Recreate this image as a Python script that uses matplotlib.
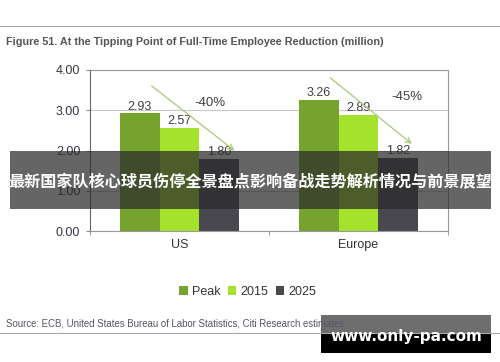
import numpy as np
import matplotlib
matplotlib.use("Agg")
from matplotlib import pyplot as plt
from matplotlib.patches import Rectangle

plt.rcParams['font.family'] = ['Liberation Sans', 'DejaVu Sans']

# data
regions = ['US', 'Europe']
series = ['Peak', '2015', '2025']
peak = [2.93, 3.26]
y2015 = [2.57, 2.89]
y2025 = [1.80, 1.82]
drops = ['-40%', '-45%']
colours = ['#76a22e', '#a4e22c', '#48484e']

fig = plt.figure(figsize=(5, 3.62), dpi=100)
ax = fig.add_axes([0.18, 1 - 231 / 362, 0.716, (231 - 70) / 362])

x = np.arange(len(regions))
w = 0.223
for i, (vals, c, name) in enumerate(zip([peak, y2015, y2025], colours, series)):
    bars = ax.bar(x + (i - 1) * w, vals, w, color=c, label=name, zorder=2)
    for b, v in zip(bars, vals):
        ax.text(b.get_x() + b.get_width() / 2, v + 0.01, f'{v:.2f}',
                ha='center', va='bottom', fontsize=9, color='#404040')

# reduction arrows and % labels
arrows = [((-0.168, 3.65), (0.32, 1.95)), ((0.83, 3.85), (1.31, 2.12))]
lab_pos = [(0.17, 3.18), (1.27, 3.33)]
for (s, e), lab, p in zip(arrows, drops, lab_pos):
    ax.annotate('', xy=e, xytext=s,
                arrowprops=dict(arrowstyle='->', color='#a9c878', lw=0.9), zorder=3)
    ax.text(p[0], p[1], lab, fontsize=9.5, color='#404040',
            ha='center', va='center')

ax.set_xlim(-0.5, 1.5)
ax.set_ylim(0, 4)
ax.set_yticks([0, 1, 2, 3, 4])
ax.set_yticklabels([f'{v:.2f}' for v in [0, 1, 2, 3, 4]], fontsize=9, color='#333344')
ax.set_xticks(x)
ax.set_xticklabels(regions, fontsize=9, color='#333333')
ax.tick_params(axis='x', length=0, pad=6)
ax.set_xticks([-0.5, 0.5, 1.5], minor=True)
ax.tick_params(axis='x', which='minor', length=3, color='#888888')
ax.tick_params(axis='y', length=3, color='#888888', pad=4)
ax.grid(axis='y', color='#c8c8c8', lw=0.8, zorder=0)
for side in ['top', 'right', 'bottom']:
    ax.spines[side].set_color('#999999')
ax.spines['left'].set_color('#666666')

leg = ax.legend(loc='upper center', bbox_to_anchor=(0.44, -0.27), ncol=3, frameon=False,
                fontsize=9, handlelength=0.7, handleheight=0.7, handletextpad=0.3,
                columnspacing=0.6)
for t in leg.get_texts():
    t.set_color('#333333')

# header / footer
fig.add_artist(plt.Line2D([0, 1], [1 - 26 / 362] * 2, color='#aaaaaa', lw=0.8))
fig.text(0.012, 1 - 42 / 362, 'Figure 51. At the Tipping Point of Full-Time Employee Reduction (million)',
         fontsize=7.8, fontweight='bold', color='#555555', va='center')
fig.text(0.012, 1 - 323 / 362, 'Source: ECB, United States Bureau of Labor Statistics, Citi Research estimates',
         fontsize=6.9, color='#555566', va='center')
fig.add_artist(plt.Line2D([0, 1], [1 - 333 / 362] * 2, color='#aaaaaa', lw=0.8))

# watermark overlays
fig.add_artist(Rectangle((10 / 500, 1 - 209 / 362), 481 / 500, 58 / 362,
                         transform=fig.transFigure, color='#2a2a2a', alpha=0.72, lw=0))
fig.text(250 / 500, 1 - 182 / 362, '最新国家队核心球员伤停全景盘点影响备战走势解析情况与前景展望',
         family=['Noto Sans CJK SC', 'DejaVu Sans'], fontsize=11.6, fontweight='bold',
         color='white', ha='center', va='center')
fig.add_artist(Rectangle((321 / 500, 1 - 333 / 362), 170 / 500, 18 / 362,
                         transform=fig.transFigure, color='#555555', alpha=0.85, lw=0))
fig.add_artist(Rectangle((321 / 500, 1 - 353 / 362), 170 / 500, 20 / 362,
                         transform=fig.transFigure, color='black', lw=0))
fig.text(406 / 500, 1 - 336 / 362, 'www.only-pa.com', family=['DejaVu Sans'],
         fontsize=11, fontweight='bold', color='white', ha='center', va='center')

fig.savefig('out.png', dpi=100)
